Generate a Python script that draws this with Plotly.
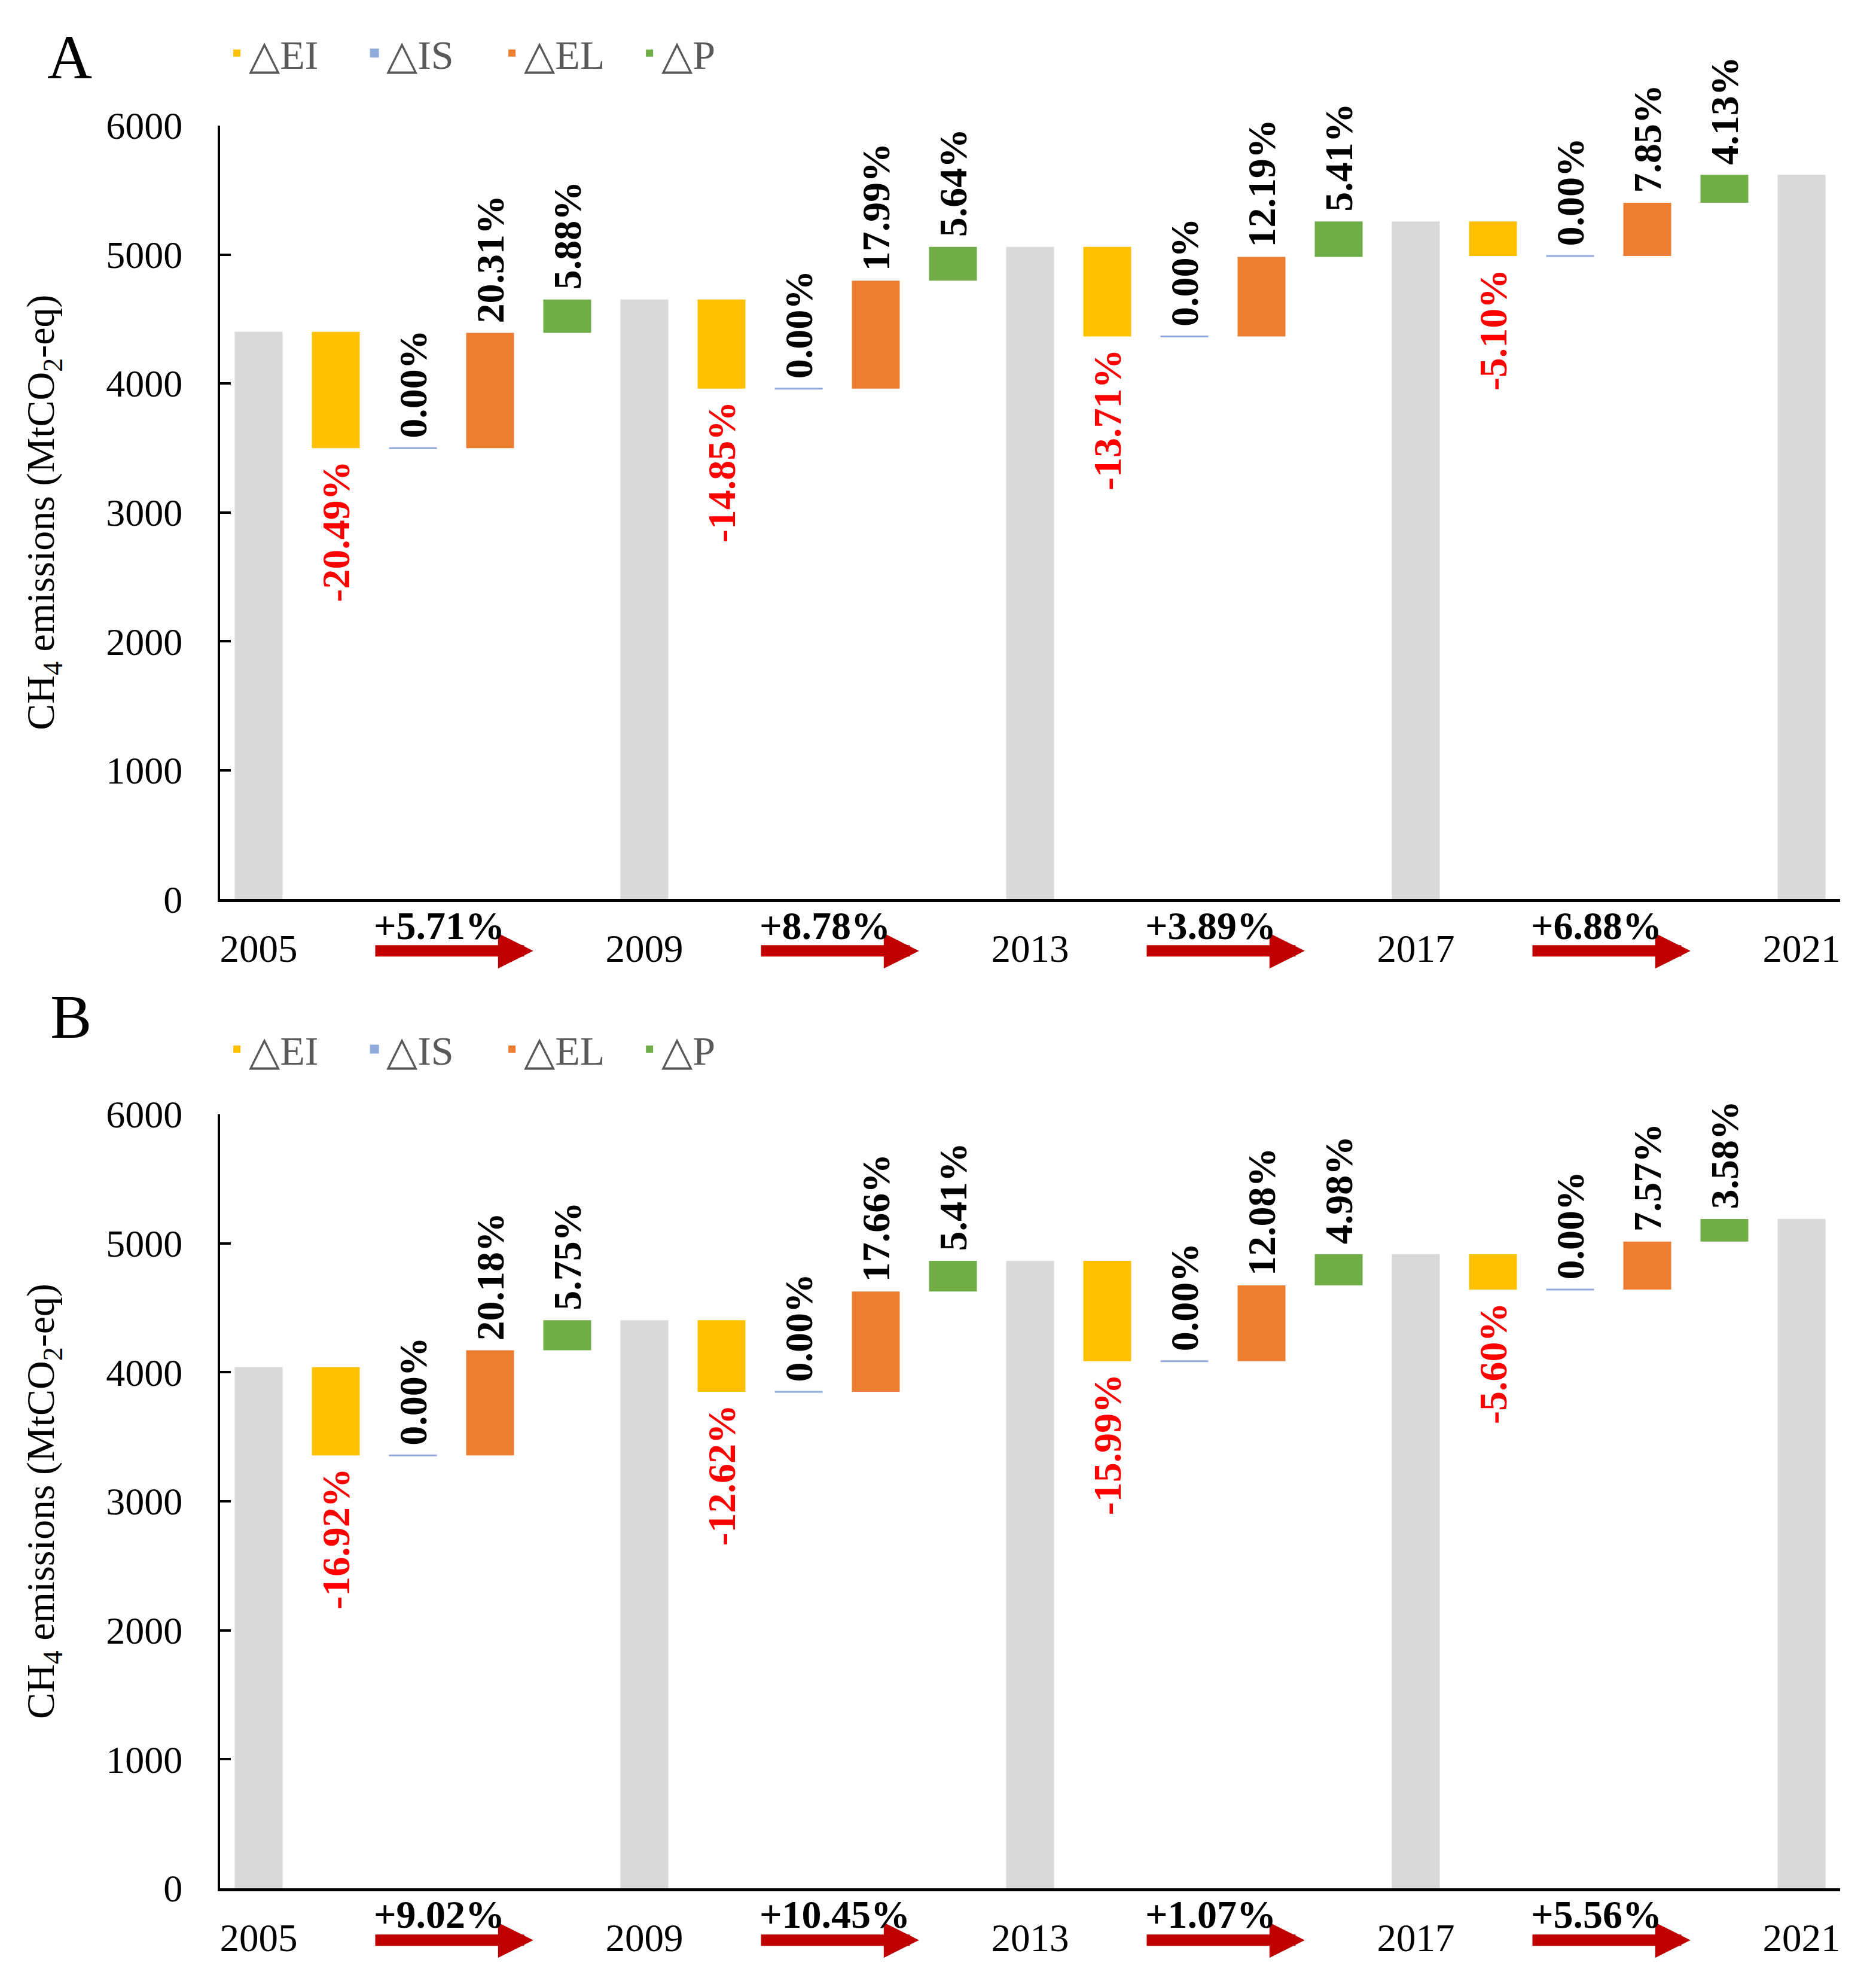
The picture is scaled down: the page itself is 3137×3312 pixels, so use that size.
import plotly.graph_objects as go
from plotly.subplots import make_subplots

# Data (MtCO2-eq)
years = ["2005", "2009", "2013", "2017", "2021"]
factors = ["△EI", "△IS", "△EL", "△P"]
colors = ["#FFC000", "#8FAADC", "#ED7D31", "#70AD47"]

# Panel A
a_total = [4400, 4651, 5059, 5256, 5618]
a_ei = [-902, -691, -694, -268]
a_is = [0, 0, 0, 0]
a_el = [894, 837, 617, 413]
a_p = [259, 262, 274, 217]
a_ei_lbl = ["-20.49%", "-14.85%", "-13.71%", "-5.10%"]
a_is_lbl = ["0.00%", "0.00%", "0.00%", "0.00%"]
a_el_lbl = ["20.31%", "17.99%", "12.19%", "7.85%"]
a_p_lbl = ["5.88%", "5.64%", "5.41%", "4.13%"]
a_growth = ["+5.71%", "+8.78%", "+3.89%", "+6.88%"]

# Panel B
b_total = [4040, 4404, 4864, 4916, 5189]
b_ei = [-684, -556, -778, -275]
b_is = [0, 0, 0, 0]
b_el = [815, 778, 588, 372]
b_p = [233, 238, 242, 176]
b_ei_lbl = ["-16.92%", "-12.62%", "-15.99%", "-5.60%"]
b_is_lbl = ["0.00%", "0.00%", "0.00%", "0.00%"]
b_el_lbl = ["20.18%", "17.66%", "12.08%", "7.57%"]
b_p_lbl = ["5.75%", "5.41%", "4.98%", "3.58%"]
b_growth = ["+9.02%", "+10.45%", "+1.07%", "+5.56%"]

FONT = "Liberation Serif"

# category slots: year, EI, IS, EL, P, year, ...
slots = []
for i, y in enumerate(years):
    slots.append(y)
    if i < len(years) - 1:
        slots += [f"EI{y}", f"IS{y}", f"EL{y}", f"P{y}"]

fig = make_subplots(rows=2, cols=1)


def add_panel(row, total, ei, is_, el, p, labels, growth, legend):
    xaxis = "x" if row == 1 else f"x{row}"
    yaxis = "y" if row == 1 else f"y{row}"

    fig.add_trace(go.Bar(x=years, y=total, marker_color="#D9D9D9", showlegend=False,
                         legend=legend), row=row, col=1)

    deltas = [ei, is_, el, p]
    run = list(total[:-1])
    for k, name in enumerate(factors):
        xs = [f"{name[1:]}{y}" for y in years[:-1]]
        bases = list(run)
        fig.add_trace(go.Bar(
            x=xs, y=deltas[k], base=bases, name=name, legend=legend,
            marker=dict(color=colors[k], line=dict(color=colors[k], width=3 if k == 1 else 0)),
        ), row=row, col=1)
        for j in range(len(xs)):
            v = deltas[k][j]
            lbl = labels[k][j]
            neg = v < 0
            yy = bases[j] + v
            fig.add_annotation(
                x=xs[j], y=yy, xref=xaxis, yref=yaxis,
                text=f"<b>{lbl}</b>", showarrow=False, textangle=-90,
                yanchor="top" if neg else "bottom",
                yshift=-20 if neg else 14,
                font=dict(family=FONT, size=66, color="#FF0000" if neg else "black"),
            )
            run[j] = bases[j] + v

    # growth arrows between years
    for j, g in enumerate(growth):
        i0 = 5 * j
        fig.add_annotation(
            x=i0 + 3.56, y=-0.067, xref=xaxis, yref=f"{yaxis} domain",
            ax=i0 + 1.5, ay=0, axref=xaxis, ayref="pixel",
            text="", showarrow=True, arrowhead=2, arrowsize=0.62,
            arrowwidth=19, arrowcolor="#C00000", standoff=0,
        )
        fig.add_annotation(
            x=i0 + 1.48, y=-0.034, xref=xaxis, yref=f"{yaxis} domain",
            text=f"<b>{g}</b>", showarrow=False, xanchor="left", yanchor="middle",
            font=dict(family=FONT, size=66, color="black"),
        )


add_panel(1, a_total, a_ei, a_is, a_el, a_p,
          [a_ei_lbl, a_is_lbl, a_el_lbl, a_p_lbl], a_growth, "legend")
add_panel(2, b_total, b_ei, b_is, b_el, b_p,
          [b_ei_lbl, b_is_lbl, b_el_lbl, b_p_lbl], b_growth, "legend2")

for row, dom in [(1, [0.5612, 1.0]), (2, [0.0, 0.4391])]:
    fig.update_xaxes(
        type="category", categoryorder="array", categoryarray=slots,
        range=[-0.5, len(slots) - 0.5], domain=[0, 1],
        tickvals=years, ticktext=years, ticks="outside", ticklen=22,
        tickcolor="rgba(0,0,0,0)", showline=True, linecolor="black", linewidth=5,
        showgrid=False, zeroline=False,
        tickfont=dict(family=FONT, size=65, color="black"),
        row=row, col=1,
    )
    fig.update_yaxes(
        range=[0, 6000], dtick=1000, domain=dom,
        ticks="inside", ticklen=18, tickwidth=4, tickcolor="black",
        ticklabelstandoff=46,
        showline=True, linecolor="black", linewidth=4,
        showgrid=False, zeroline=False,
        tickfont=dict(family=FONT, size=64, color="black"),
        title=dict(text="CH<sub>4</sub> emissions (MtCO<sub>2</sub>-eq)",
                   font=dict(family=FONT, size=66, color="black"), standoff=66),
        row=row, col=1,
    )

legend_style = dict(orientation="h", x=0.003, xanchor="left", yanchor="middle",
                    font=dict(family=FONT, size=68, color="#595959"),
                    entrywidth=185, entrywidthmode="pixels",
                    bgcolor="rgba(0,0,0,0)", traceorder="normal")

fig.add_annotation(text="A", x=-0.093, y=1.039, xref="paper", yref="paper",
                   xanchor="center", yanchor="middle",
                   showarrow=False, font=dict(family=FONT, size=104, color="black"))
fig.add_annotation(text="B", x=-0.092, y=0.4945, xref="paper", yref="paper",
                   xanchor="center", yanchor="middle",
                   showarrow=False, font=dict(family=FONT, size=104, color="black"))

fig.update_layout(
    width=3137, height=3312,
    margin=dict(l=360, r=68, t=202, b=163),
    barmode="overlay", bargap=0.38,
    plot_bgcolor="white", paper_bgcolor="white",
    legend=dict(y=1.041, **legend_style),
    legend2=dict(y=0.476, **legend_style),
)

fig.write_html("out.html")
